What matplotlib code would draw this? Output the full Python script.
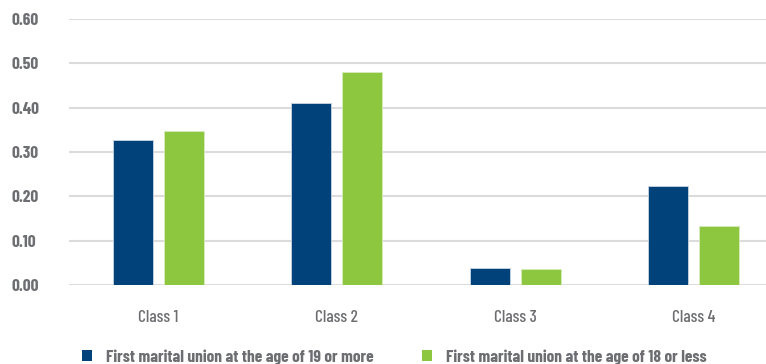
import matplotlib
matplotlib.use("Agg")
import matplotlib.pyplot as plt
from matplotlib.patches import Patch
import numpy as np

classes = ["Class 1", "Class 2", "Class 3", "Class 4"]
age_19_plus = [0.327, 0.410, 0.038, 0.223]
age_18_less = [0.347, 0.480, 0.036, 0.134]
series_names = ["First marital union at the age of 19 or more",
                "First marital union at the age of 18 or less"]
yticks = [0.0, 0.1, 0.2, 0.3, 0.4, 0.5, 0.6]

blue = "#02427a"
green = "#8dc63f"
grey_text = "#6d6e71"
fonts = ["Barlow Condensed", "Liberation Sans Narrow", "DejaVu Sans"]
plt.rcParams["font.family"] = fonts

fig = plt.figure(figsize=(7.66, 3.64), dpi=100)
ax = fig.add_axes([69 / 766, 1 - 285 / 364, 697 / 766, 266 / 364])

x = np.arange(len(classes))
w = 0.224
off = 0.143
ax.bar(x - off, age_19_plus, w, color=blue, edgecolor="#c9d6e3", linewidth=0.6, zorder=3)
ax.bar(x + off, age_18_less, w, color=green, edgecolor="#d6ebbd", linewidth=0.6, zorder=3)

ax.set_xlim(-0.5, -0.5 + 697 / 178.5)
ax.set_ylim(0, 0.6)
ax.set_yticks(yticks)
ax.set_yticklabels([f"{v:.2f}" for v in yticks], fontsize=12.5, fontweight="bold", color=grey_text)
ax.set_xticks(x)
ax.set_xticklabels(classes, fontsize=12.5, fontweight=500, color=grey_text)
ax.tick_params(axis="both", length=0)
ax.tick_params(axis="y", pad=41.5)
ax.tick_params(axis="x", pad=18)
for lab in ax.get_yticklabels():
    lab.set_horizontalalignment("left")

ax.grid(axis="y", color="#dcdcdc", linewidth=1.5, zorder=0)
for s in ax.spines.values():
    s.set_visible(False)

handles = [Patch(facecolor=blue), Patch(facecolor=green)]
leg = fig.legend(handles, series_names, ncol=2, loc="lower left",
                 bbox_to_anchor=(66 / 766, -0.045), frameon=False,
                 handlelength=0.58, handleheight=0.58, handletextpad=0.8,
                 columnspacing=2.8,
                 prop={"family": fonts, "size": 12.5, "weight": "bold"})
for t in leg.get_texts():
    t.set_color(grey_text)

fig.savefig("out.png", dpi=100)
